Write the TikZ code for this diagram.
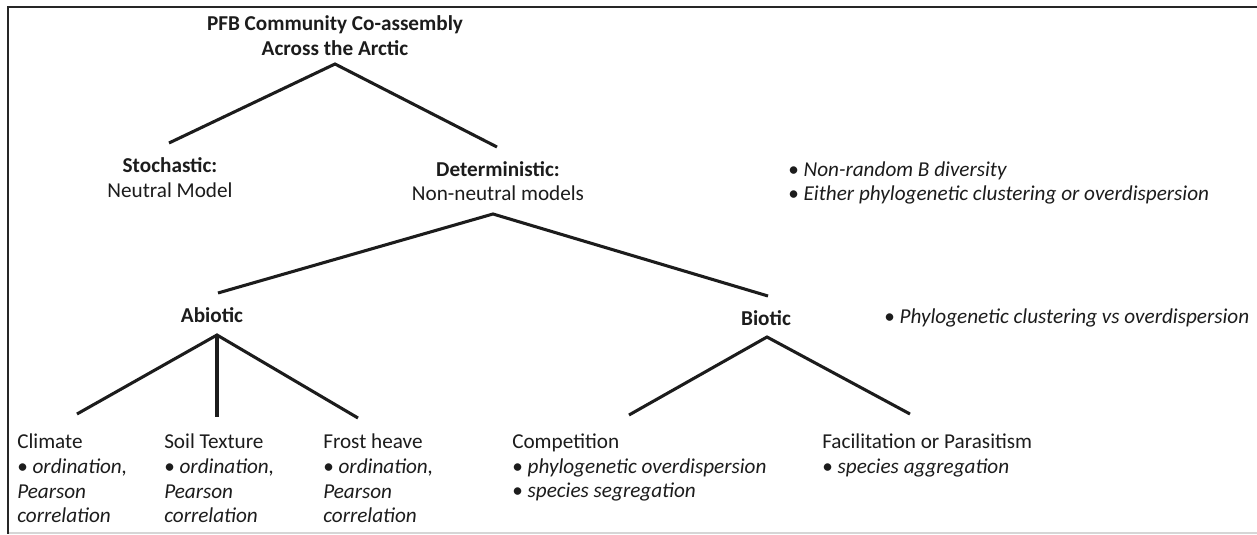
\documentclass[tikz,border=0pt]{standalone}
\usepackage{fontspec}
\setmainfont{Carlito}
\definecolor{ink}{RGB}{28,28,28}
\definecolor{framecol}{RGB}{38,38,38}
\definecolor{faint}{RGB}{214,214,214}
\newcommand{\bl}[1]{\makebox[11.5pt][l]{\textbullet}\textit{#1}}
\begin{document}
\begin{tikzpicture}[x=0.75pt,y=-0.75pt,
  txt/.style={inner sep=0pt, text=ink, font=\fontsize{15.9}{18.4}\selectfont},
  ctr/.style={txt, align=center},
  leaf/.style={txt, align=left, anchor=north west},
  blist/.style={txt, align=left, anchor=west},
  link/.style={draw=ink, line width=2.3pt}]
\useasboundingbox (0,0) rectangle (1257,535);
\fill[white] (0,0) rectangle (1257,535);
% frame
\draw[faint, line width=1.6pt] (8,533) -- (1257,533);
\draw[framecol, line width=2.2pt] (1257,7) -- (8,7) -- (8,534);

% nodes
\node[ctr, font=\fontsize{15.9}{18.4}\selectfont\bfseries] (title) at (335,35.5) {PFB Community Co-assembly\\Across the Arctic};
\node[ctr] (stoch) at (170,177.5) {\textbf{Stochastic:}\\Neutral Model};
\node[ctr] (det) at (498,181) {\textbf{Deterministic:}\\Non-neutral models};
\node[blist] (detnote) at (788,183) {\bl{Non-random B diversity}\\\bl{Either phylogenetic clustering or overdispersion}};
\node[ctr, font=\fontsize{15.9}{18.4}\selectfont\bfseries] (abio) at (212,315) {Abiotic};
\node[ctr, font=\fontsize{15.9}{18.4}\selectfont\bfseries] (bio) at (766,318) {Biotic};
\node[blist] (bionote) at (884,318) {\bl{Phylogenetic clustering vs overdispersion}};

\node[leaf] (climate) at (17,434) {Climate\\\textbullet\ \textit{ordination,}\\\textit{Pearson}\\\textit{correlation}};
\node[leaf] (soil) at (164,434) {Soil Texture\\\textbullet\ \textit{ordination,}\\\textit{Pearson}\\\textit{correlation}};
\node[leaf] (frost) at (323,434) {Frost heave\\\textbullet\ \textit{ordination,}\\\textit{Pearson}\\\textit{correlation}};
\node[leaf] (comp) at (512,434) {Competition\\\textbullet\ \textit{phylogenetic overdispersion}\\\textbullet\ \textit{species segregation}};
\node[leaf] (facil) at (822,434) {Facilitation or Parasitism\\\textbullet\ \textit{species aggregation}};

% joints and ends
\coordinate (j0) at (335,64);
\coordinate (stochE) at (169,143);
\coordinate (detE) at (497,147);
\coordinate (j1) at (493,214);
\coordinate (abioE) at (218,293);
\coordinate (bioE) at (768,296);
\coordinate (j2) at (217,335);
\coordinate (climE) at (77,414);
\coordinate (soilE) at (217,417);
\coordinate (frostE) at (358,418);
\coordinate (j3) at (767,337);
\coordinate (compE) at (629,415);
\coordinate (facilE) at (910,414);

% connectors
\draw[link] (stochE) -- (j0) -- (detE);
\draw[link] (abioE) -- (j1) -- (bioE);
\draw[link] (climE) -- (j2) -- (frostE);
\draw[link] (j2) -- (soilE);
\draw[link] (compE) -- (j3) -- (facilE);
\end{tikzpicture}
\end{document}
